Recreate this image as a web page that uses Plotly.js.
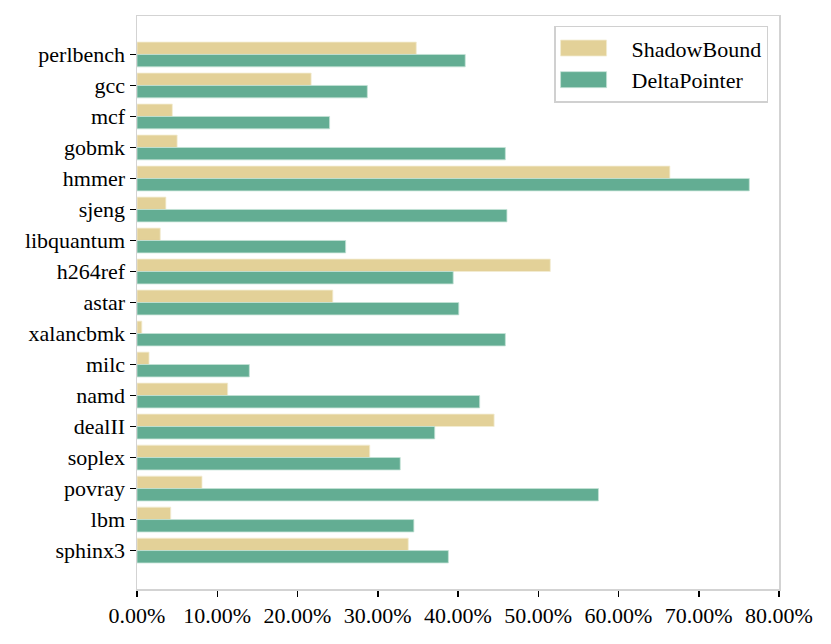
<!DOCTYPE html>
<html>
<head>
<meta charset="utf-8">
<script src="https://cdn.plot.ly/plotly-3.0.1.min.js"></script>
<style>
  html, body { margin: 0; padding: 0; background: #fff; }
  #chart { width: 831px; height: 644px; }
</style>
</head>
<body>
<div id="chart"></div>
<script>
var benchmarks = ['perlbench', 'gcc', 'mcf', 'gobmk', 'hmmer', 'sjeng', 'libquantum', 'h264ref',
  'astar', 'xalancbmk', 'milc', 'namd', 'dealII', 'soplex', 'povray', 'lbm', 'sphinx3'];

// overhead, as fractions
var shadowBound = [0.348, 0.217, 0.044, 0.050, 0.664, 0.036, 0.029, 0.515,
  0.244, 0.006, 0.015, 0.113, 0.445, 0.290, 0.081, 0.042, 0.338];
var deltaPointer = [0.409, 0.287, 0.240, 0.459, 0.763, 0.461, 0.260, 0.394,
  0.401, 0.459, 0.140, 0.427, 0.371, 0.328, 0.575, 0.345, 0.388];

var xTicks = [0, 0.1, 0.2, 0.3, 0.4, 0.5, 0.6, 0.7, 0.8];

var trace1 = {
  y: benchmarks,
  x: shadowBound,
  name: 'ShadowBound',
  type: 'bar',
  orientation: 'h',
  marker: { color: '#e3d198', line: { color: '#f3ecd2', width: 0.8 } }
};

var trace2 = {
  y: benchmarks,
  x: deltaPointer,
  name: 'DeltaPointer',
  type: 'bar',
  orientation: 'h',
  marker: { color: '#63ad93', line: { color: '#c4e2d6', width: 0.8 } }
};

var layout = {
  width: 831,
  height: 644,
  margin: { l: 137, r: 52, t: 16, b: 55 },
  paper_bgcolor: '#fff',
  plot_bgcolor: '#fff',
  font: { family: 'Liberation Serif, Times New Roman, serif', size: 22, color: '#000' },
  barmode: 'group',
  bargap: 0.2,
  bargroupgap: 0,
  showlegend: true,
  legend: {
    x: 0.983, y: 0.983, xanchor: 'right', yanchor: 'top',
    bgcolor: '#fff',
    bordercolor: '#d0d0d0',
    borderwidth: 1.5,
    font: { size: 22 },
    itemwidth: 66
  },
  xaxis: {
    range: [0, 0.8],
    tickvals: xTicks,
    tickformat: '.2%',
    showgrid: false,
    zeroline: false,
    showline: true,
    linecolor: '#d3d3d3',
    linewidth: 1.5,
    mirror: true,
    ticks: 'outside',
    ticklen: 6,
    tickwidth: 1.5,
    tickcolor: '#000'
  },
  yaxis: {
    type: 'category',
    range: [17.24, -1.24],
    showgrid: false,
    zeroline: false,
    showline: true,
    linecolor: '#d3d3d3',
    linewidth: 1.5,
    mirror: true,
    ticks: 'outside',
    ticklen: 6,
    tickwidth: 1.5,
    tickcolor: '#000'
  }
};

Plotly.newPlot('chart', [trace1, trace2], layout, { displayModeBar: false, staticPlot: true })
  .then(function (gd) {
    // wider legend patches, like the matplotlib ones
    var patches = gd.querySelectorAll('.legendpoints path');
    patches.forEach(function (p) {
      p.setAttribute('d', 'M23,8H-23V-8H23Z');
      p.setAttribute('transform', 'translate(28,0)');
    });
  });
</script>
</body>
</html>
